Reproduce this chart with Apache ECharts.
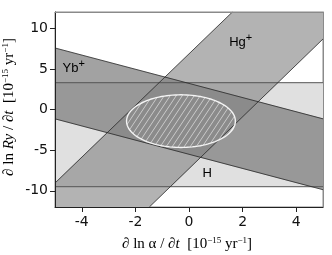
<!DOCTYPE html>
<html><head><meta charset="utf-8">
<script src="https://cdn.jsdelivr.net/npm/echarts@6/dist/echarts.min.js"></script>
<style>html,body{margin:0;padding:0;background:#fff}#c{width:332px;height:255px}</style>
</head><body><div id="c"></div>
<script>
// ---- data ----
const xTicks = [-4, -2, 0, 2, 4];
const yTicks = [-10, -5, 0, 5, 10];
const xRange = [-5, 5];
const yRange = [-12, 12];
// band edges (endpoints in data units)
const hTop = [[-5, 3.3], [5, 3.3]];
const hBottom = [[-5, -9.5], [5, -9.5]];
const ybUpper = [[-5, 7.57], [5, -1.15]];
const ybLower = [[-5, -1.15], [5, -9.87]];
const hgLeft = [[-5, -9.05], [1.62, 12]];
const hgRight = [[-1.48, -12], [5, 8.68]];
// ellipse: centre x, centre y, half-width, half-height
const ellipseParams = [-0.3, -1.43, 2.03, 3.24];
// band labels
const bandNames = ['Yb', 'Hg', 'H'];
const bandSup = ['+', '+', ''];
const bandLabelPos = [[-4.72, 5.0], [1.5, 8.2], [0.5, -7.9]];

// ---- geometry ----
const polyH = [hTop[0], hTop[1], hBottom[1], hBottom[0]];
const polyYb = [ybUpper[0], ybUpper[1], ybLower[1], ybLower[0]];
const polyHg = [hgLeft[0], hgLeft[1], [xRange[1], yRange[1]], hgRight[1], hgRight[0], [xRange[0], yRange[0]]];

function centroid(p) { let x = 0, y = 0; p.forEach(q => { x += q[0]; y += q[1]; }); return [x / p.length, y / p.length]; }
function clip(subject, clipPoly) {
  const c = centroid(clipPoly);
  let out = subject.slice();
  for (let i = 0; i < clipPoly.length && out.length; i++) {
    const a = clipPoly[i], b = clipPoly[(i + 1) % clipPoly.length];
    const side = p => (b[0] - a[0]) * (p[1] - a[1]) - (b[1] - a[1]) * (p[0] - a[0]);
    const sc = Math.sign(side(c));
    const inside = p => side(p) * sc >= -1e-9;
    const inp = out; out = [];
    for (let j = 0; j < inp.length; j++) {
      const P = inp[j], Q = inp[(j + 1) % inp.length];
      const pi = inside(P), qi = inside(Q);
      const inter = () => { const sp = side(P), sq = side(Q); const t = sp / (sp - sq); return [P[0] + t * (Q[0] - P[0]), P[1] + t * (Q[1] - P[1])]; };
      if (pi) { out.push(P); if (!qi) out.push(inter()); }
      else if (qi) out.push(inter());
    }
  }
  return out;
}
const regions = [
  { pts: polyH, color: '#e0e0e0' },
  { pts: polyHg, color: '#b3b3b3' },
  { pts: polyYb, color: '#a2a2a2' },
  { pts: clip(polyHg, polyH), color: '#a7a7a7' },
  { pts: clip(polyYb, polyH), color: '#989898' },
  { pts: clip(polyYb, polyHg), color: '#8e8e8e' },
  { pts: clip(clip(polyYb, polyHg), polyH), color: '#8b8b8b' }
].filter(r => r.pts.length > 2);

// hatch pattern
const pc = document.createElement('canvas');
const pw = 6, ph = 9;
pc.width = pw; pc.height = ph;
const g = pc.getContext('2d');
g.strokeStyle = 'rgba(255,255,255,0.55)';
g.lineWidth = 1;
[[0, ph, pw, 0], [-pw, ph, 0, 0], [pw, 2 * ph, 2 * pw, ph], [pw, ph, 2 * pw, 0], [-pw, 2*ph, 0, ph]].forEach(s => {
  g.beginPath(); g.moveTo(s[0], s[1]); g.lineTo(s[2], s[3]); g.stroke();
});

const edgeSeries = (d, color, w) => ({
  type: 'line', data: d, symbol: 'none', silent: true, z: 5,
  lineStyle: { color: color, width: w }, animation: false
});

const serif = "'Liberation Serif', 'DejaVu Serif', serif";
const titleRich = {
  n: { fontFamily: serif, fontSize: 15, color: '#222' },
  i: { fontFamily: serif, fontSize: 15, fontStyle: 'italic', color: '#222' },
  s: { fontFamily: serif, fontSize: 9, color: '#222', verticalAlign: 'top', padding: [0, 0, 7, 0] }
};
function bandName(i) { return '{b|' + bandNames[i] + '}' + (bandSup[i] ? '{s|' + bandSup[i] + '}' : ''); }

const chart = echarts.init(document.getElementById('c'), null, { renderer: 'canvas' });
chart.setOption({
  animation: false,
  grid: { left: 55, right: 9, top: 12, bottom: 48, show: true, borderColor: '#8a8a8a', borderWidth: 1 },
  xAxis: [{
    type: 'value', min: xRange[0], max: xRange[1], z: 10,
    axisLine: { show: true, onZero: false, lineStyle: { color: '#222', width: 1 } },
    axisTick: { show: true, customValues: xTicks, length: 5, lineStyle: { color: '#222' } },
    axisLabel: { customValues: xTicks, fontSize: 14, color: '#111', margin: 8, fontFamily: 'DejaVu Sans' },
    splitLine: { show: false }
  }, {
    type: 'value', min: xRange[0], max: xRange[1], position: 'top', z: 10,
    axisLine: { show: true, onZero: false, lineStyle: { color: '#8a8a8a', width: 1 } },
    axisTick: { show: false }, axisLabel: { show: false }, splitLine: { show: false }
  }],
  yAxis: [{
    type: 'value', min: yRange[0], max: yRange[1], z: 10,
    axisLine: { show: true, onZero: false, lineStyle: { color: '#222', width: 1 } },
    axisTick: { show: true, customValues: yTicks, length: 5, lineStyle: { color: '#222' } },
    axisLabel: { customValues: yTicks, fontSize: 14, color: '#111', margin: 7, fontFamily: 'DejaVu Sans' },
    splitLine: { show: false }
  }, {
    type: 'value', min: yRange[0], max: yRange[1], position: 'right', z: 10,
    axisLine: { show: true, onZero: false, lineStyle: { color: '#8a8a8a', width: 1 } },
    axisTick: { show: false }, axisLabel: { show: false }, splitLine: { show: false }
  }],
  series: [
    {
      type: 'custom', clip: true, silent: true, z: 2,
      data: regions.map((r, i) => [r.pts[0][0], r.pts[0][1], i]),
      renderItem: (params, api) => {
        const r = regions[api.value(2)];
        return { type: 'polygon', z2: api.value(2), shape: { points: r.pts.map(p => api.coord(p)) }, style: { fill: r.color, stroke: r.color, lineWidth: 0.3 } };
      }
    },
    edgeSeries(hTop, '#555', 1),
    edgeSeries(hBottom, '#555', 1),
    edgeSeries(ybUpper, '#2a2a2a', 0.8),
    edgeSeries(ybLower, '#2a2a2a', 0.8),
    edgeSeries(hgLeft, '#2a2a2a', 0.8),
    edgeSeries(hgRight, '#2a2a2a', 0.8),
    {
      type: 'custom', clip: true, silent: true, z: 6,
      data: [[ellipseParams[0], ellipseParams[1]]],
      renderItem: (params, api) => {
        const pts = [];
        for (let k = 0; k < 120; k++) {
          const t = k / 120 * Math.PI * 2;
          pts.push(api.coord([ellipseParams[0] + ellipseParams[2] * Math.cos(t), ellipseParams[1] + ellipseParams[3] * Math.sin(t)]));
        }
        return { type: 'polygon', shape: { points: pts }, style: { fill: { image: pc, repeat: 'repeat' }, stroke: '#f4f4f4', lineWidth: 1.4 } };
      }
    },
    {
      type: 'custom', silent: true, z: 7,
      data: bandLabelPos.map((p, i) => [p[0], p[1], i]),
      renderItem: (params, api) => {
        const i = api.value(2);
        const pt = api.coord([api.value(0), api.value(1)]);
        return {
          type: 'text', x: pt[0], y: pt[1],
          style: {
            text: bandName(i),
            rich: { b: { fontSize: 13, fontFamily: "'Liberation Sans', Arial, sans-serif", color: '#111' }, s: { fontSize: 11, fontFamily: "'Liberation Sans', Arial, sans-serif", color: '#111', verticalAlign: 'top', padding: [0, 0, 9, 0] } },
            align: 'left', verticalAlign: 'middle'
          }
        };
      }
    }
  ],
  graphic: [
    {
      type: 'text', x: 187, y: 244,
      style: {
        text: '{n|∂ ln α / ∂}{i|t}{n|  [10}{s|−15}{n| yr}{s|−1}{n|]}',
        rich: titleRich, align: 'center', verticalAlign: 'middle'
      }
    },
    {
      type: 'text', x: 9, y: 107, rotation: Math.PI / 2,
      style: {
        text: '{n|∂ ln }{i|Ry}{n| / ∂}{i|t}{n|  [10}{s|−15}{n| yr}{s|−1}{n|]}',
        rich: titleRich, align: 'center', verticalAlign: 'middle'
      }
    }
  ]
});
</script>
</body></html>
